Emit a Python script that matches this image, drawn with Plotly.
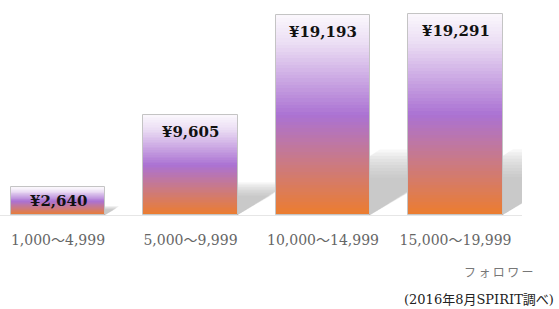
import plotly.graph_objects as go

categories = ["1,000～4,999", "5,000～9,999", "10,000～14,999", "15,000～19,999"]
values = [2640, 9605, 19193, 19291]
value_labels = ["¥2,640", "¥9,605", "¥19,193", "¥19,291"]
axis_caption = "フ\u2009ォ\u2009ロ\u2009ワ\u2009ー"
source_note = "(2016年8月SPIRIT調べ)"

W, H = 559, 309
ML, MR, MT, MB = 0, 37, 12, 94
plot_w = W - ML - MR
plot_h = H - MT - MB
ymax = 19291 * plot_h / 201.0
xr = [-0.4377, -0.4377 + plot_w / 132.5]
bw = 0.71
px_per_x = plot_w / (xr[1] - xr[0])
px_per_y = plot_h / ymax

# gradient stops (t from top=0 to bottom=1)
stops = [(0.0, (251, 248, 253)), (0.15, (234, 220, 243)), (0.5, (171, 114, 211)),
         (0.75, (204, 122, 128)), (1.0, (236, 125, 46))]

def grad(t):
    for (t0, c0), (t1, c1) in zip(stops[:-1], stops[1:]):
        if t <= t1:
            f = (t - t0) / (t1 - t0) if t1 > t0 else 0
            return "rgb(%d,%d,%d)" % tuple(round(a + (b - a) * f) for a, b in zip(c0, c1))
    return "rgb(%d,%d,%d)" % stops[-1][1]

xs = list(range(len(categories)))
fig = go.Figure()
N = 60
for k in range(N):
    t = 1 - (k + 0.5) / N
    fig.add_trace(go.Bar(
        x=xs, y=[v * (N - k) / N for v in values], base=[v * k / N for v in values],
        width=bw, marker=dict(color=grad(t), line=dict(width=0)),
        hoverinfo="skip", showlegend=False))
# outline
fig.add_trace(go.Bar(x=xs, y=values, width=bw,
                     marker=dict(color="rgba(0,0,0,0)", line=dict(color="#c4c4c4", width=1)),
                     showlegend=False, hoverinfo="skip"))

# shadows (blurred by layering)
shapes = []
for i, v in enumerate(values):
    hs_base = 0.26 * v
    for j in range(10):
        sc = 0.72 + 0.06 * j
        hs = hs_base * sc
        dx = (hs_base * px_per_y) / 0.6 / px_per_x * (0.75 + 0.05 * j)
        xl, xrr = i - bw / 2, i + bw / 2
        path = "M %f,%f L %f,%f L %f,%f L %f,%f Z" % (xl, 0, xl + dx, hs, xrr + dx, hs, xrr, 0)
        shapes.append(dict(type="path", xref="x", yref="y", path=path,
                           fillcolor="rgba(175,175,175,0.1)", line=dict(width=0), layer="below"))
fig.update_layout(shapes=shapes)

for i, (v, lab) in enumerate(zip(values, value_labels)):
    fig.add_annotation(x=i, y=v, text="<b>%s</b>" % lab, showarrow=False, yanchor="top",
                       yshift=-6 if v > 5000 else -3,
                       font=dict(family="DejaVu Serif", size=15, color="#111111"))

def px2paper(px, py):
    return (px - ML) / plot_w, (H - MB - py) / plot_h

ax, ay = px2paper(499, 271)
fig.add_annotation(x=ax, y=ay, xref="paper", yref="paper", text=axis_caption, showarrow=False,
                   xanchor="center", yanchor="middle", font=dict(family="Noto Sans CJK JP", size=12, color="#777777"))
sx, sy = px2paper(556, 299)
fig.add_annotation(x=sx, y=sy, xref="paper", yref="paper", text=source_note, showarrow=False,
                   xanchor="right", yanchor="middle", font=dict(family="DejaVu Serif, Noto Sans CJK JP", size=13, color="#222222"))

fig.update_layout(
    width=W, height=H, margin=dict(l=ML, r=MR, t=MT, b=MB),
    paper_bgcolor="white", plot_bgcolor="white", barmode="overlay", bargap=0,
    xaxis=dict(range=xr, tickvals=xs, ticktext=categories, showgrid=False, zeroline=False,
               showline=True, linecolor="#e6e6e6", linewidth=1, ticks="", ticklabelstandoff=12,
               tickfont=dict(family="DejaVu Serif, Noto Sans CJK JP", size=14, color="#666666"), fixedrange=True),
    yaxis=dict(range=[0, ymax], visible=False, fixedrange=True),
)
fig.write_html("out.html", config={"displayModeBar": False},
               post_script="document.body.style.margin='0px';document.body.style.padding='0px';")
